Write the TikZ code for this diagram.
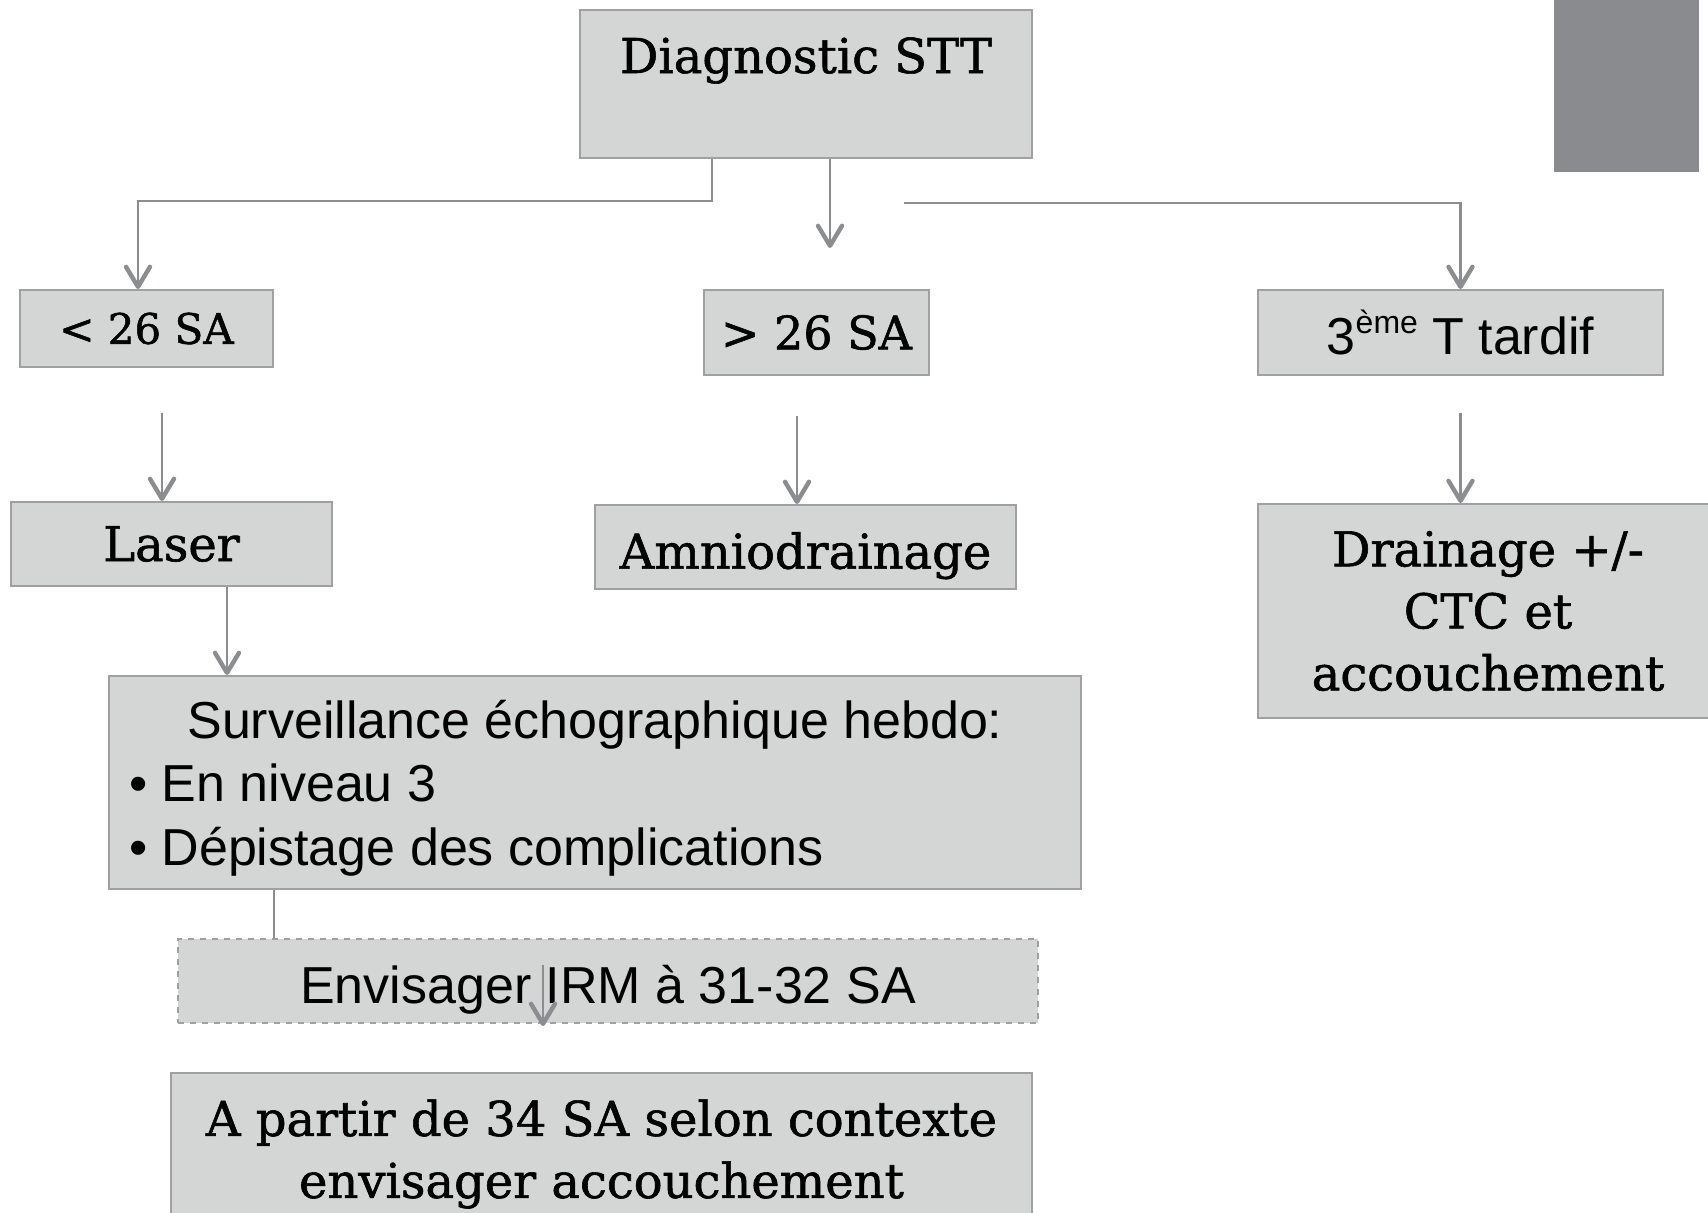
\documentclass[tikz,border=0pt]{standalone}
\usepackage{fontspec}
\setmainfont{Liberation Sans}
\newfontfamily\slab[FakeBold=1.2]{DejaVu Serif}
\usepackage{tikz}
\usetikzlibrary{positioning,calc,arrows.meta}

\definecolor{boxfill}{RGB}{212,213,213}
\definecolor{boxline}{RGB}{160,160,162}
\definecolor{arrowgray}{RGB}{140,141,145}
\definecolor{tabgray}{RGB}{138,139,143}

\tikzset{
  box/.style={draw=boxline, fill=boxfill, line width=1pt, inner sep=0pt, align=center},
  arr/.style={draw=arrowgray, line width=1.3pt,
    -{Straight Barb[length=10pt,width=12pt,line width=2.2pt,round]}},
  plain/.style={draw=arrowgray, line width=1.1pt},
  serifbig/.style={font=\slab\fontsize{24}{31}\selectfont},
  sansbig/.style={font=\fontsize{26}{31.75}\selectfont}
}

\begin{document}
\begin{tikzpicture}[x=0.5pt,y=-0.5pt]
    \useasboundingbox (0,0) rectangle (1708,1212);

    % grey tab top right
    \node[fill=tabgray, inner sep=0pt, minimum width=72.5pt, minimum height=86pt] (tab) at (1626.5,86) {};

    % Boxes
    \node[box, font=\slab\fontsize{24}{30}\selectfont, minimum width=226pt,
          inner ysep=6pt, text height=25.5pt, text depth=36.5pt] (diag) at (806,84) {Diagnostic STT};
    \node[box, font=\slab\fontsize{21}{25}\selectfont, minimum width=126.5pt, minimum height=38.5pt] (lt26) at (146.5,328.5) {< 26 SA};
    \node[box, font=\slab\fontsize{23}{30}\selectfont, minimum width=112.5pt, minimum height=42.5pt] (gt26) at (816.5,332.5) {> 26 SA};
    \node[box, sansbig, minimum width=202.5pt, minimum height=42.5pt] (t3) at (1460.5,332.5)
        {3\raisebox{0.42em}{\fontsize{16}{16}\selectfont ème} T tardif};

    \node[box, serifbig, minimum width=160.5pt, minimum height=42pt] (laser) at (171.5,544) {Laser};
    \node[box, serifbig, minimum width=210.5pt, minimum height=42pt,
          text height=26pt, text depth=4.4pt] (amnio) at (805.5,547) {Amniodrainage};
    \node[box, serifbig, minimum width=230pt, minimum height=107pt] (drain) at (1488,611)
        {Drainage +/-\\CTC et\\accouchement};

    \node[box, minimum width=486pt, minimum height=106.5pt] (surv) at (595,782.5) {};
    \node[sansbig, align=left, inner sep=0pt] (survlbl) at (595,788)
        {\makebox[470pt][c]{Surveillance échographique hebdo:}\\
         \hspace*{2pt}• En niveau 3\\
         \hspace*{2pt}• Dépistage des complications};

    \node[box, sansbig, dashed, minimum width=430pt, minimum height=42pt,
          text height=26pt, text depth=4pt] (irm) at (608,981) {Envisager IRM à 31-32 SA};
    \node[box, minimum width=430.5pt, minimum height=84pt] (apartir) at (601.5,1157) {};
    \node[serifbig, align=center, inner sep=0pt] (apartirlbl) at (601.5,1154)
        {A partir de 34 SA selon contexte\\envisager accouchement};

    % Connections
    \draw[arr] ([xshift=-47pt]diag.south) -- ++(0,42) -| ([xshift=-4.25pt]lt26.north);
    \draw[arr] ([xshift=12pt]diag.south) -- ++(0,89);
    \coordinate (rstart) at (904,203);
    \draw[arr] (rstart) -| (t3.north);

    \draw[arr] ([xshift=7.75pt,yshift=-22.5pt]lt26.south) -- ([xshift=-4.75pt]laser.north);
    \draw[arr] ([xshift=-9.75pt,yshift=-20pt]gt26.south) -- ([xshift=-4.25pt]amnio.north);
    \draw[arr] ([yshift=-18.5pt]t3.south) -- (t3.south |- drain.north);

    \draw[arr] ([xshift=27.75pt]laser.south) coordinate (ls) -- (ls |- surv.north);
    \draw[plain] ([xshift=-160.5pt]surv.south) coordinate (ss) -- (ss |- irm.north);
    \draw[arr] ([xshift=-32.5pt,yshift=8pt]irm.center) coordinate (ic) -- ([yshift=-1pt]ic |- irm.south);
\end{tikzpicture}
\end{document}
